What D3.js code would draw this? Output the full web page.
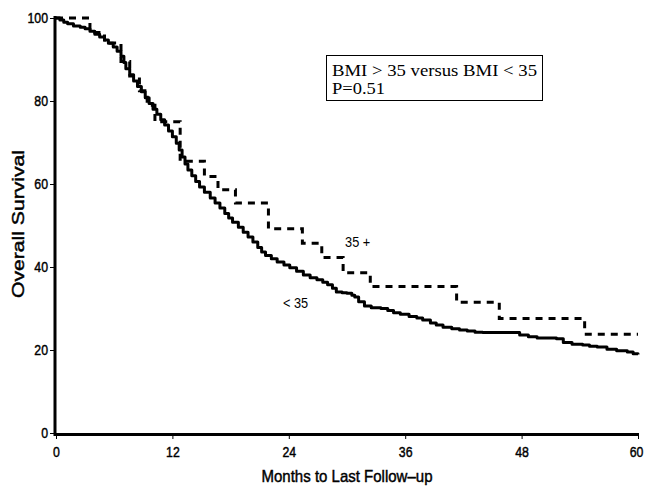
<!DOCTYPE html>
<html>
<head>
<meta charset="utf-8">
<script src="https://cdn.jsdelivr.net/npm/d3@7"></script>
<style>
  html, body { margin: 0; padding: 0; background: #fff; }
  svg { display: block; }
</style>
</head>
<body>
<svg id="chart" width="646" height="486"></svg>
<script>
// Kaplan-Meier overall survival, BMI < 35 vs BMI > 35
const xTicks = [0, 12, 24, 36, 48, 60];
const yTicks = [0, 20, 40, 60, 80, 100];

// BMI < 35 (solid): months, survival %
const under35Months = [0,0.4,0.8,1.2,1.8,2.5,3.0,3.5,4.0,4.5,5.0,5.4,5.9,6.3,6.7,7.0,7.2,7.6,8.0,8.4,8.8,9.2,9.6,10.0,10.4,10.8,11.2,11.6,12.0,12.4,12.7,13.0,13.3,13.6,14.0,14.4,14.8,15.3,15.9,16.4,16.9,17.4,17.8,18.2,18.8,19.3,19.8,20.3,20.8,21.2,21.6,22.2,22.8,23.5,24.1,24.8,25.5,26.2,26.9,27.5,28.0,28.5,28.9,29.5,30.0,30.5,30.8,31.2,31.8,32.5,33.5,34.2,34.8,35.5,36.4,37.2,37.8,38.6,39.2,39.9,40.8,41.6,42.4,43.2,44.0,47.8,48.7,49.6,51.6,52.3,53.2,54.3,55.0,55.8,56.8,57.8,58.9,59.5,60];
const under35Surv = [100,99.5,99,98.6,98.1,97.8,97.4,96.8,96.1,95.4,94.7,93.9,93.0,92.0,90.8,89.3,87.8,86.3,84.8,83.5,82.2,80.8,79.4,78.0,76.8,75.5,74.2,72.8,71.4,69.8,68.2,66.5,64.8,63.4,62.0,60.6,59.3,58.0,56.6,55.4,54.2,52.9,51.8,50.8,49.6,48.4,47.2,46.0,44.7,43.6,42.8,42.0,41.2,40.5,39.8,39.0,38.1,37.4,36.9,36.3,35.7,34.9,34.0,33.8,33.7,33.2,32.8,31.6,30.6,30.2,30.0,29.5,29.0,28.6,28.1,27.7,27.2,26.5,26.0,25.5,25.1,24.8,24.6,24.3,24.2,23.6,23.2,22.9,22.7,21.8,21.4,21.2,20.9,20.7,20.2,19.8,19.5,19.1,18.9];

// BMI > 35 (dashed): months, survival %
const over35Months = [0,3.5,5.0,6.7,7.6,8.6,9.4,10.2,12.8,15.3,16.7,18.5,21.9,25.4,27.4,29.6,32.4,41.3,45.7,54.5,60];
const over35Surv = [100,96.5,94,89.5,86,82.5,79,75,65.5,61.8,58.6,55.4,49.2,45.7,42.3,38.6,35.3,31.5,27.6,23.8,23.8];

const svg = d3.select("#chart");
const x = d3.scaleLinear().domain([0, 60]).range([56, 638]);
const y = d3.scaleLinear().domain([0, 100]).range([433, 18]);

const axisFont = "'Liberation Sans', Arial, sans-serif";

// narrow a text element horizontally by a factor, keeping it as text
function condense(sel, k) {
  sel.each(function () {
    const w = this.getComputedTextLength();
    d3.select(this).attr("textLength", w * k).attr("lengthAdjust", "spacingAndGlyphs");
  });
}
// slightly heavier than regular weight
function heavy(sel) {
  sel.attr("fill", "#000").attr("stroke", "#000").attr("stroke-width", 0.45);
}

// axes
const xAxis = svg.append("g").attr("transform", "translate(0,434)")
  .call(d3.axisBottom(x).tickValues(xTicks).tickSize(5).tickPadding(4));
const yAxis = svg.append("g").attr("transform", "translate(55,0)")
  .call(d3.axisLeft(y).tickValues(yTicks).tickSize(5).tickPadding(2));

[xAxis, yAxis].forEach(g => {
  g.select(".domain").remove();
  g.selectAll(".tick line").attr("stroke", "#000").attr("stroke-width", 1);
  g.selectAll(".tick text")
    .style("font-family", axisFont)
    .style("font-size", "15px")
    .call(heavy);
  condense(g.selectAll(".tick text"), 0.82);
});
xAxis.selectAll(".tick text").attr("dy", "0.9em");
xAxis.selectAll(".tick text").filter(d => d === 60).attr("dx", "-2");

// axis lines
svg.append("line").attr("x1", 55).attr("x2", 55).attr("y1", y(100) - 2).attr("y2", 436)
  .attr("stroke", "#000").attr("stroke-width", 3);
svg.append("line").attr("x1", 54).attr("x2", x(60) + 1).attr("y1", 434.5).attr("y2", 434.5)
  .attr("stroke", "#000").attr("stroke-width", 3);

// survival curves
const line = d3.line().x(d => x(d[0])).y(d => y(d[1])).curve(d3.curveStepAfter);
const under35 = under35Months.map((m, i) => [m, under35Surv[i]]);
const over35 = over35Months.map((m, i) => [m, over35Surv[i]]);

svg.append("path").datum(over35).attr("d", line)
  .attr("fill", "none").attr("stroke", "#000").attr("stroke-width", 3)
  .attr("stroke-dasharray", "7,6");
svg.append("path").datum(under35).attr("d", line)
  .attr("fill", "none").attr("stroke", "#000").attr("stroke-width", 3)
  .attr("stroke-linejoin", "round");

// curve labels
svg.append("text").attr("x", x(29.8)).attr("y", 247)
  .style("font-family", axisFont).style("font-size", "15px").text("35 +")
  .call(condense, 0.85);
svg.append("text").attr("x", x(23.4)).attr("y", 308)
  .style("font-family", axisFont).style("font-size", "15px").text("< 35")
  .call(condense, 0.85);

// comparison box
svg.append("rect").attr("x", 326.5).attr("y", 55.5).attr("width", 216).attr("height", 45)
  .attr("fill", "#fff").attr("stroke", "#000").attr("stroke-width", 1);
const boxText = svg.append("g").style("font-family", "'Liberation Serif', 'Times New Roman', serif")
  .style("font-size", "16.5px");
boxText.append("text").attr("x", 332).attr("y", 76)
  .attr("textLength", 205).attr("lengthAdjust", "spacingAndGlyphs")
  .text("BMI > 35 versus BMI < 35");
boxText.append("text").attr("x", 332).attr("y", 94)
  .attr("textLength", 53).attr("lengthAdjust", "spacingAndGlyphs")
  .text("P=0.51");

// axis titles
svg.append("text").attr("x", 347).attr("y", 482).attr("text-anchor", "middle")
  .style("font-family", axisFont).style("font-size", "17px")
  .attr("textLength", 171).attr("lengthAdjust", "spacingAndGlyphs")
  .call(heavy)
  .text("Months to Last Follow\u2013up");
svg.append("text").attr("transform", "translate(24,224) rotate(-90)").attr("text-anchor", "middle")
  .style("font-family", axisFont).style("font-size", "17px")
  .attr("textLength", 148).attr("lengthAdjust", "spacingAndGlyphs")
  .call(heavy)
  .text("Overall Survival");
</script>
</body>
</html>
